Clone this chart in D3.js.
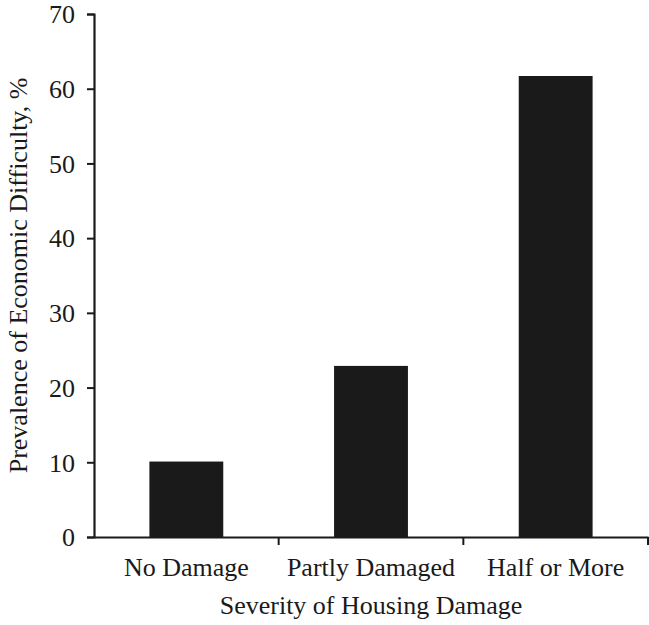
<!DOCTYPE html>
<html>
<head>
<meta charset="utf-8">
<script src="https://cdn.jsdelivr.net/npm/d3@7"></script>
<style>
  body { margin: 0; background: #fff; }
  text { font-family: "Liberation Serif", "Times New Roman", serif; fill: #1a1a1a; }
</style>
</head>
<body>
<div id="chart"></div>
<script>
// values
const categories = ["No Damage", "Partly Damaged", "Half or More"];
const prevalence = [10.1, 22.9, 61.7];
const yTicks = [0, 10, 20, 30, 40, 50, 60, 70];

let width = 649, height = 625;

let margin = {
  top: 14,
  bottom: 88,
  left: 94,
  right: 1
}

let svg = d3.select("#chart")
  .append("svg")
  .attr("width", width)
  .attr("height", height);

let yscale = d3.scaleLinear()
  .domain([0, 70])
  .range([height - margin.bottom, margin.top]);

let xscale = d3.scaleBand()
  .domain(categories)
  .range([margin.left, width - margin.right]);

// bars are about 40% of each band, centred
let barWidth = xscale.bandwidth() * 0.4;

svg.selectAll(".bar")
  .data(categories)
  .enter()
  .append("rect")
  .attr("class", "bar")
  .attr("x", (d) => xscale(d) + (xscale.bandwidth() - barWidth) / 2)
  .attr("y", (d, i) => yscale(prevalence[i]))
  .attr("width", barWidth)
  .attr("height", (d, i) => yscale(0) - yscale(prevalence[i]))
  .style("fill", "#1a1a1a");

let yaxis = svg.append("g")
  .attr("transform", `translate(${margin.left},0)`)
  .call(d3.axisLeft(yscale).tickValues(yTicks).tickSize(7).tickPadding(12));

// x ticks sit at the band boundaries, not the centres
let xaxis = svg.append("g")
  .attr("transform", `translate(0,${height - margin.bottom})`)
  .call(d3.axisBottom(xscale).tickSize(0).tickPadding(20));

let boundaries = categories.map(d => xscale(d) + xscale.bandwidth());
xaxis.selectAll(".edge")
  .data(boundaries)
  .enter()
  .append("line")
  .attr("class", "edge")
  .attr("x1", d => d)
  .attr("x2", d => d)
  .attr("y1", 0)
  .attr("y2", 8)
  .attr("stroke", "#1a1a1a")
  .attr("stroke-width", 2);

svg.selectAll(".domain")
  .attr("stroke", "#1a1a1a")
  .attr("stroke-width", 2.2);
yaxis.selectAll(".tick line")
  .attr("stroke", "#1a1a1a")
  .attr("stroke-width", 2);
svg.selectAll(".tick text")
  .attr("font-size", 26)
  .attr("font-family", "Liberation Serif, serif")
  .attr("fill", "#1a1a1a");
yaxis.selectAll(".tick text").attr("dy", "0.34em");
xaxis.selectAll(".tick text").attr("dy", "0.72em");

svg.append("text")
  .attr("x", (margin.left + width - margin.right) / 2)
  .attr("y", 614)
  .attr("text-anchor", "middle")
  .attr("font-size", 26)
  .text("Severity of Housing Damage");

svg.append("text")
  .attr("transform", `translate(27,${(yscale(0) + yscale(70)) / 2}) rotate(-90)`)
  .attr("text-anchor", "middle")
  .attr("font-size", 26)
  .text("Prevalence of Economic Difficulty, %");
</script>
</body>
</html>
